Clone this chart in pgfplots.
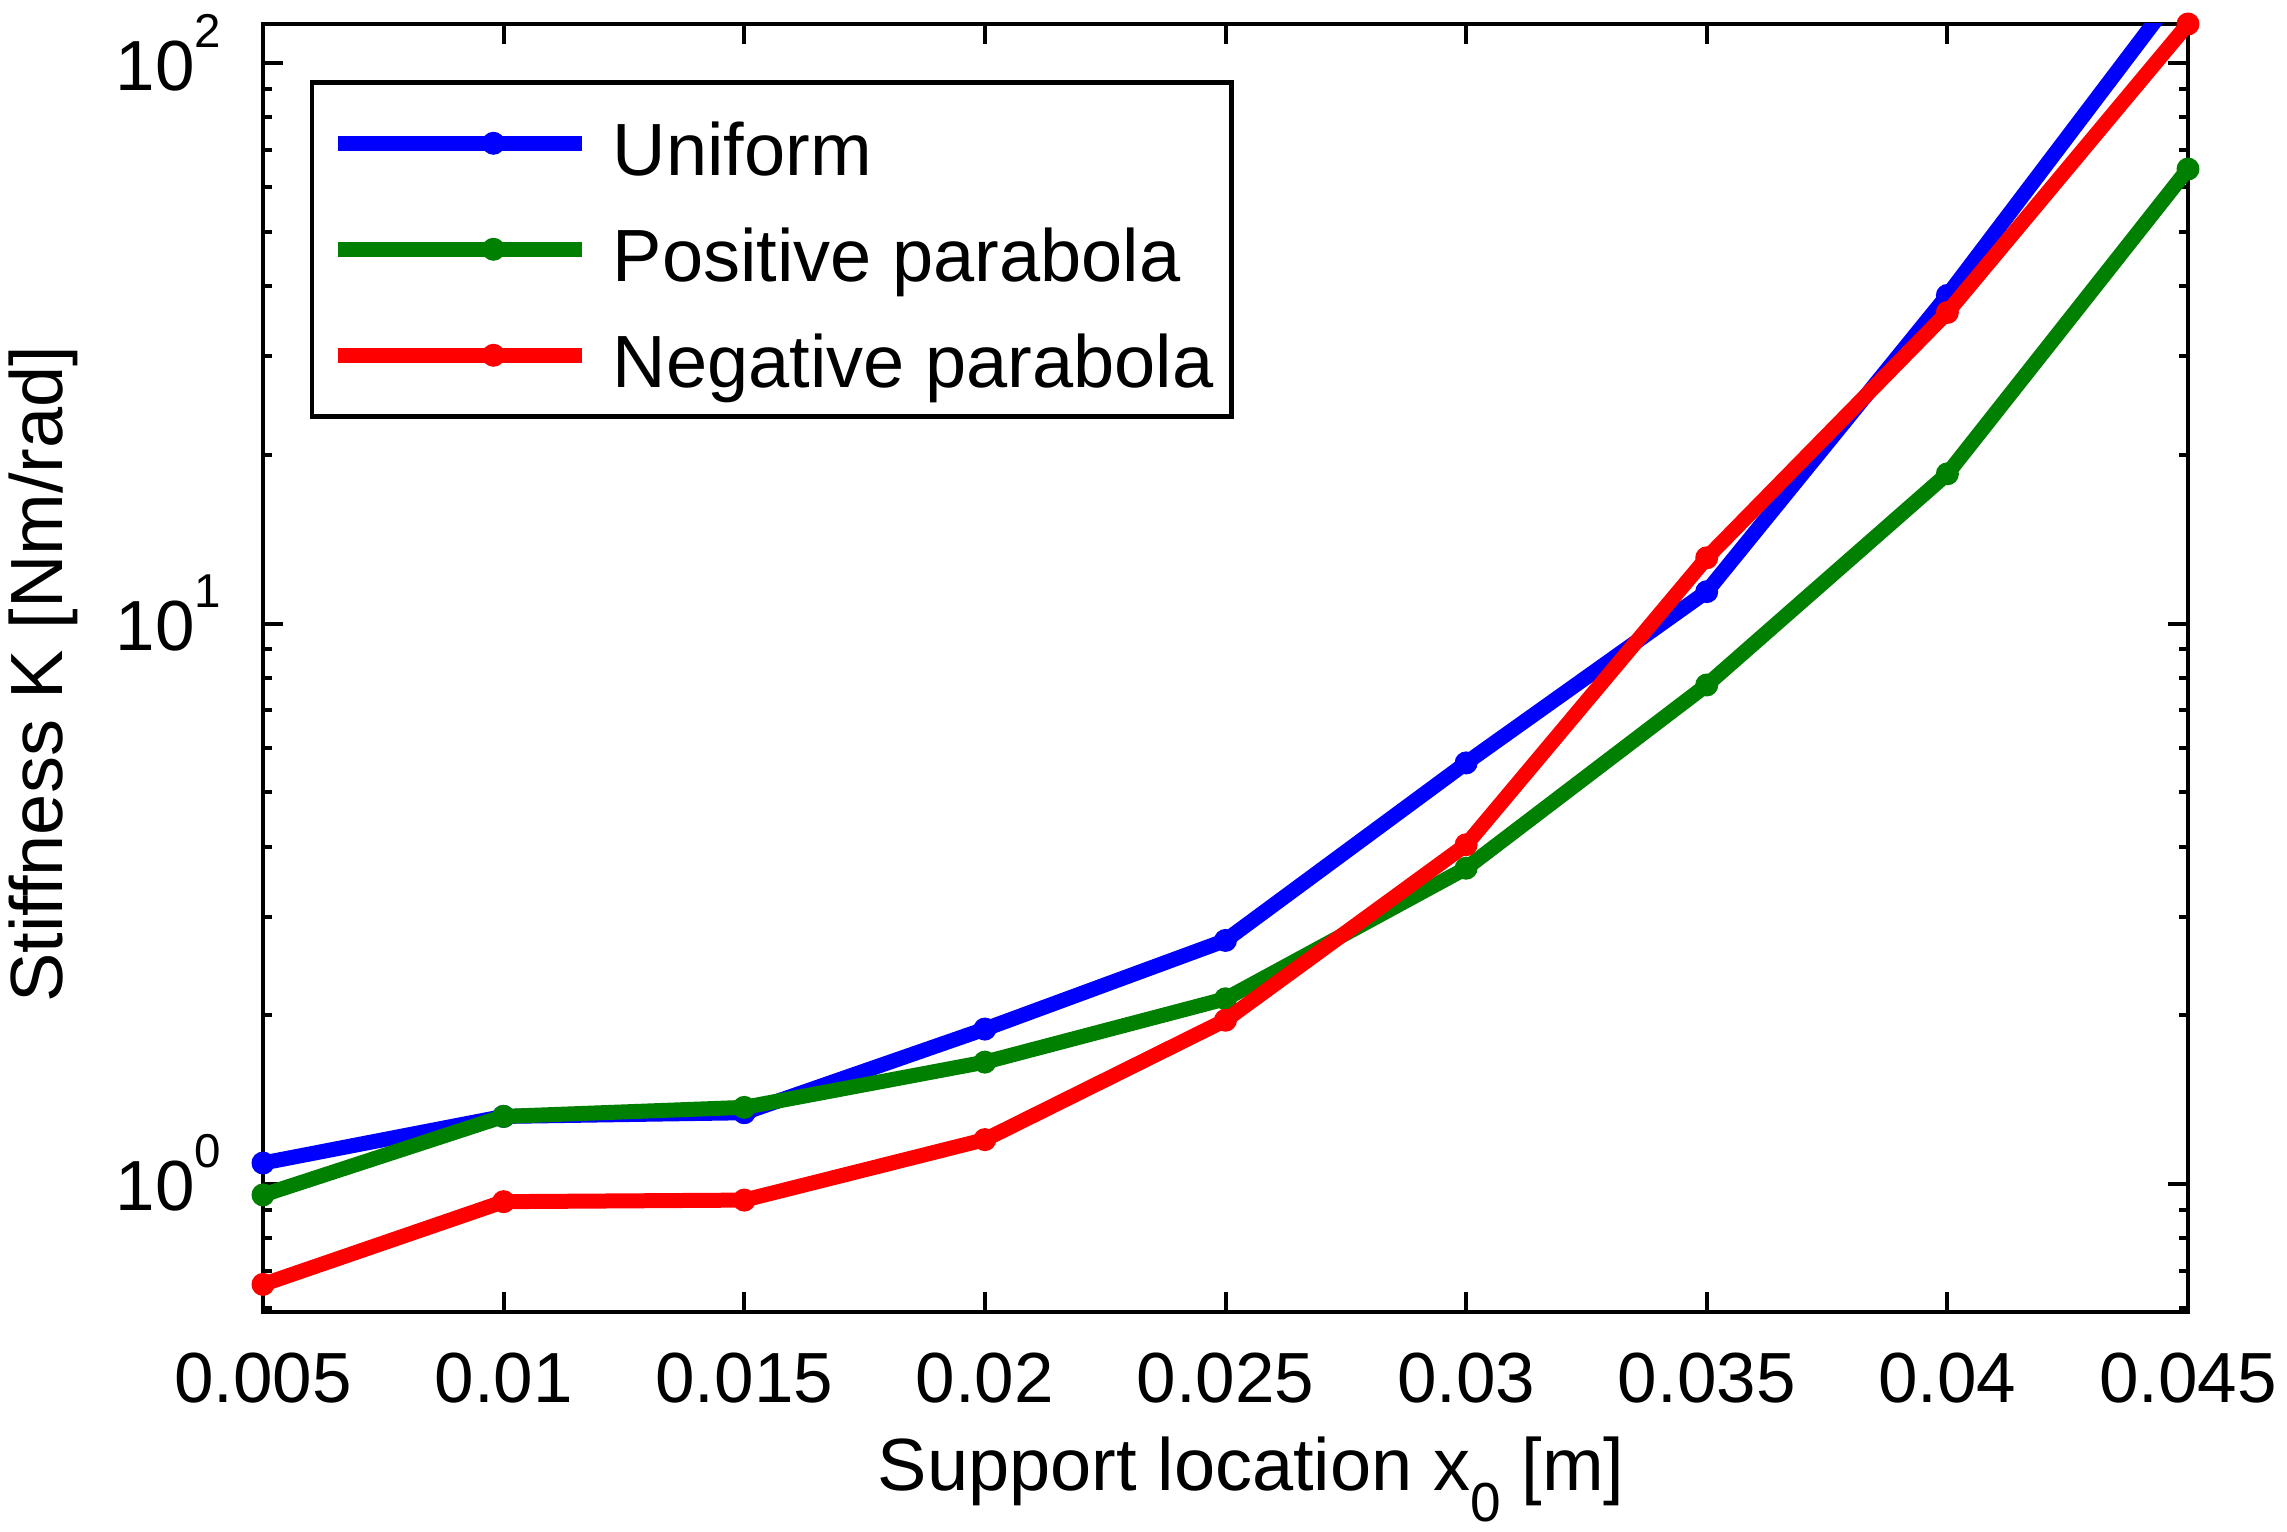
\documentclass[border=0pt]{standalone}
\usepackage{fontspec}
\setmainfont{Liberation Sans}
\usepackage{pgfplots}
\pgfplotsset{compat=1.18}
\definecolor{mblue}{rgb}{0,0,1}
\definecolor{mgreen}{rgb}{0,0.5,0}
\definecolor{mred}{rgb}{1,0,0}
\newcommand\ylab[1]{10\raisebox{8.6pt}{\fontsize{9.5pt}{10pt}\selectfont #1}}
\begin{document}
\begin{tikzpicture}
\useasboundingbox (-52.6pt,-43.8pt) rectangle (404.8pt,262.4pt);
\begin{axis}[
  at={(0,0)}, anchor=south west,
  scale only axis, width=385pt, height=257.6pt,
  xmin=0.005, xmax=0.045,
  ymode=log, ymin=0.591, ymax=117.4,
  font=\fontsize{14.2pt}{17pt}\selectfont,
  axis line style={line width=0.9pt},
  every tick/.style={line width=0.8pt, black},
  major tick length=4pt, minor tick length=1.8pt,
  tick align=inside,
  scaled x ticks=false,
  xtick={0.005,0.01,0.015,0.02,0.025,0.03,0.035,0.04,0.045},
  xticklabels={0.005,0.01,0.015,0.02,0.025,0.03,0.035,0.04,0.045},
  ytick={1,10,100},
  yticklabels={\ylab{0},\ylab{1},\ylab{2}},
  minor ytick={0.6,0.7,0.8,0.9,2,3,4,5,6,7,8,9,20,30,40,50,60,70,80,90},
  xticklabel style={anchor=base, yshift=-18pt, inner sep=0pt},
  yticklabel style={anchor=base east, yshift=-5.4pt, xshift=-8.2pt, inner sep=0pt},
  xlabel={Support location x\raisebox{-6.2pt}{\fontsize{11pt}{11pt}\selectfont 0} [m]},
  xlabel style={at={(axis description cs:0.5133,-0.1382)}, anchor=base, inner sep=0pt,
    font=\fontsize{14.8pt}{17pt}\selectfont},
  ylabel={Stiffness K [Nm/rad]},
  ylabel style={at={(axis description cs:-0.1044,0.4953)}, anchor=base, inner sep=0pt,
    font=\fontsize{14.8pt}{17pt}\selectfont},
  clip mode=individual,
  legend cell align=left,
  legend style={at={(0.0244,0.9565)}, anchor=north west, draw=black, line width=0.9pt,
    font=\fontsize{14.8pt}{17pt}\selectfont,
    inner xsep=3.6pt, inner ysep=1.6pt, column sep=4.65pt, row sep=0pt,
    nodes={inner sep=0pt, text height=17pt, text depth=4.2pt}},
  legend image code/.code={
    \path (-9.6pt,0pt) -- (39.3pt,0pt);
    \draw[#1, mark indices={2}] plot coordinates {(3.8pt,0pt) (21.55pt,0pt) (39.3pt,0pt)};
  },
  every axis plot/.append style={line width=3pt, line join=round, mark=*, mark size=2.1pt,
    mark options={solid, line width=0.4pt}},
]
\addplot[color=mblue, mark indices={1,2,3,4,5,6,7,8}] coordinates {
  (0.005,1.09) (0.010,1.32) (0.015,1.34) (0.020,1.89) (0.025,2.72)
  (0.030,5.64) (0.035,11.4) (0.040,38.5) (0.045,142)
};
\addlegendentry{Uniform}
\addplot[color=mgreen] coordinates {
  (0.005,0.956) (0.010,1.32) (0.015,1.37) (0.020,1.65) (0.025,2.14)
  (0.030,3.66) (0.035,7.77) (0.040,18.5) (0.045,64.7)
};
\addlegendentry{Positive parabola}
\addplot[color=mred] coordinates {
  (0.005,0.662) (0.010,0.930) (0.015,0.936) (0.020,1.20) (0.025,1.96)
  (0.030,4.03) (0.035,13.1) (0.040,35.9) (0.045,117.4)
};
\addlegendentry{Negative parabola}
\end{axis}
\end{tikzpicture}
\end{document}
